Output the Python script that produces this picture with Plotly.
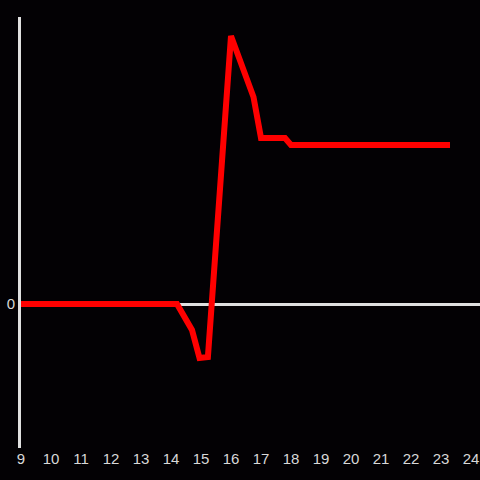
import plotly.graph_objects as go

hours = [9, 10, 11, 12, 13, 14, 14.2, 14.7, 14.95, 15.23, 16.0, 16.75, 17.0, 17.8, 18.0, 19, 20, 21, 22, 23, 23.3]
values = [0, 0, 0, 0, 0, 0, 0, -26, -54, -53, 268, 207, 166, 166, 159, 159, 159, 159, 159, 159, 159]
x_ticks = list(range(9, 25))

fig = go.Figure()
fig.add_trace(go.Scatter(x=hours, y=values, mode="lines",
                         line=dict(color="#ff0000", width=6), hoverinfo="skip"))
fig.update_layout(
    width=480, height=480,
    margin=dict(l=21, r=0, t=17, b=32, autoexpand=False),
    paper_bgcolor="#030104", plot_bgcolor="#030104",
    showlegend=False,
    font=dict(family="Liberation Sans, Arial, sans-serif", size=15, color="#d8d8d8"),
)
fig.update_xaxes(range=[9, 24.3], tickvals=x_ticks, showgrid=False, zeroline=False,
                 showline=False, ticks="", automargin=False,
                 tickfont=dict(size=15, color="#d8d8d8"))
fig.update_yaxes(range=[-144, 287], tickvals=[0], showgrid=False, zeroline=True,
                 zerolinecolor="#e0e0e0", zerolinewidth=3, showline=True,
                 linecolor="#e0e0e0", linewidth=3, ticks="", automargin=False,
                 tickfont=dict(size=15, color="#d8d8d8"))
fig.write_html("out.html", config={"displayModeBar": False},
               post_script="document.body.style.margin='0';document.body.style.background='#030104';")
